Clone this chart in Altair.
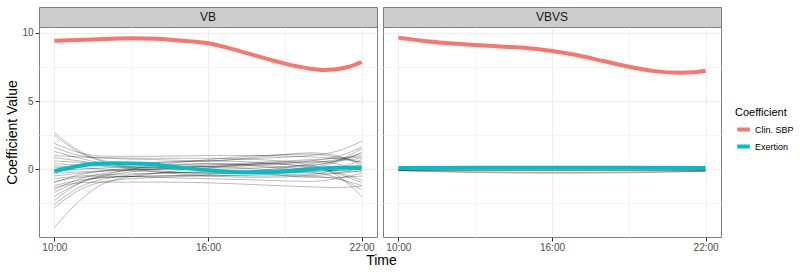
import altair as alt
import pandas as pd

# ---------------- data ----------------
PANELS = ["VB", "VBVS"]
COEFS = ["Clin. SBP", "Exertion"]
COLORS = ["#F8766D", "#00BFC4"]

# thin gray lines, VB panel (hours / values)
HOURS_VB = [10, 11, 12, 14, 16, 18, 20, 21, 22]
GRAY_VB = [
    [2.7, 1.3, 0.6, 0.3, 0.2, 0.4, 0.6, 0.4, -0.1],
    [2.5, 1.2, 0.5, -0.1, -0.3, -0.2, 0.2, 0.6, 1.2],
    [1.9, 1.2, 0.95, 0.95, 1.0, 1.0, 0.9, 0.8, 0.5],
    [1.6, 1.0, 0.8, 0.7, 0.6, 0.9, 1.2, 1.0, 0.3],
    [1.3, 0.8, 0.4, 0.1, 0.0, 0.1, 0.3, 0.6, 1.5],
    [1.0, 0.9, 0.85, 0.8, 0.8, 0.7, 0.3, -0.4, -2.0],
    [0.85, 0.6, 0.3, -0.2, -0.5, -0.6, -0.5, -0.3, 0.1],
    [0.6, 0.5, 0.45, 0.5, 0.6, 0.8, 1.0, 1.3, 2.05],
    [0.4, 0.3, 0.2, 0.1, 0.2, 0.4, 0.2, -0.2, -0.8],
    [0.25, 0.1, 0.0, -0.2, -0.3, -0.1, 0.4, 0.7, 0.9],
    [0.1, 0.2, 0.3, 0.5, 0.6, 0.5, 0.1, -0.3, -1.0],
    [-0.1, 0.0, 0.1, 0.3, 0.4, 0.2, -0.2, -0.6, -1.5],
    [-0.3, -0.2, -0.1, 0.0, 0.1, 0.3, 0.6, 0.9, 1.6],
    [-0.5, -0.3, -0.15, 0.1, 0.3, 0.5, 0.7, 0.8, 1.0],
    [-0.7, -0.5, -0.4, -0.3, -0.2, -0.3, -0.5, -0.7, -1.2],
    [-0.9, -0.6, -0.5, -0.6, -0.7, -0.8, -0.9, -0.7, -0.3],
    [-1.0, -0.4, -0.1, 0.2, 0.4, 0.3, 0.0, -0.1, -0.2],
    [-1.2, -0.8, -0.6, -0.5, -0.4, -0.2, 0.0, 0.1, 0.3],
    [-1.35, -1.0, -0.95, -0.95, -1.0, -1.15, -1.3, -1.35, -1.25],
    [-1.5, -0.7, -0.3, 0.0, -0.1, -0.3, -0.6, -0.6, -0.5],
    [-1.7, -0.9, -0.6, -0.5, -0.45, -0.5, -0.4, 0.0, 0.7],
    [-2.0, -1.0, -0.5, 0.0, 0.2, 0.0, -0.3, -0.3, -0.1],
    [-2.3, -1.0, -0.4, 0.3, 0.7, 1.0, 1.1, 0.9, 0.5],
    [-2.6, -1.3, -0.7, -0.3, -0.2, -0.1, 0.1, 0.5, 1.2],
    [-2.85, -1.5, -0.9, -0.6, -0.5, -0.4, -0.2, -0.1, 0.0],
    [-4.3, -2.3, -1.0, -0.3, 0.1, 0.4, 0.5, 0.6, 0.8],
]

# thin gray lines, VBVS panel
HOURS_VBVS = [10, 13, 16, 19, 22]
GRAY_VBVS = [
    [-0.05, -0.05, -0.05, -0.05, -0.1],
    [-0.1, -0.12, -0.12, -0.12, -0.12],
    [-0.1, -0.2, -0.25, -0.22, -0.15],
    [-0.1, -0.25, -0.3, -0.27, -0.15],
    [0.05, 0.15, 0.18, 0.15, 0.05],
    [0.0, 0.05, 0.08, 0.06, 0.0],
    [-0.08, -0.1, -0.1, -0.1, -0.08],
]

# thick coloured lines
SBP_HOURS_VB = [10, 11.5, 13, 14, 15, 16, 17, 18, 19, 20, 20.5, 21, 21.5, 22]
SBP_VB = [9.43, 9.53, 9.61, 9.58, 9.43, 9.24, 8.8, 8.26, 7.75, 7.38, 7.28, 7.33, 7.52, 7.87]
SBP_HOURS_VBVS = [10, 11, 12, 13, 14, 15, 16, 17, 18, 19, 20, 21, 21.5, 22]
SBP_VBVS = [9.66, 9.41, 9.24, 9.12, 9.0, 8.9, 8.68, 8.36, 7.94, 7.52, 7.2, 7.08, 7.11, 7.23]
EX_HOURS_VB = [10, 10.9, 11.6, 12.5, 13.5, 14.8, 16, 16.9, 17.9, 19, 20, 21, 22]
EX_VB = [-0.15, 0.22, 0.39, 0.44, 0.39, 0.15, -0.07, -0.2, -0.22, -0.15, -0.02, 0.1, 0.1]
EX_HOURS_VBVS = [10, 13, 16, 19, 22]
EX_VBVS = [0.08, 0.1, 0.1, 0.1, 0.08]

X_TICKS = [10, 13, 16, 19, 22]
Y_TICKS = [-2.5, 0, 2.5, 5, 7.5, 10]

# ---------------- tables ----------------
gray_rows = []
for pname, hours, lines in [("VB", HOURS_VB, GRAY_VB), ("VBVS", HOURS_VBVS, GRAY_VBVS)]:
    for i, vals in enumerate(lines):
        for h, v in zip(hours, vals):
            gray_rows.append({"panel": pname, "id": i, "hour": h, "value": v})
gray_df = pd.DataFrame(gray_rows)

col_rows = []
for pname, coef, hours, vals in [
    ("VB", "Clin. SBP", SBP_HOURS_VB, SBP_VB),
    ("VB", "Exertion", EX_HOURS_VB, EX_VB),
    ("VBVS", "Clin. SBP", SBP_HOURS_VBVS, SBP_VBVS),
    ("VBVS", "Exertion", EX_HOURS_VBVS, EX_VBVS),
]:
    for h, v in zip(hours, vals):
        col_rows.append({"panel": pname, "coef": coef, "hour": h, "value": v})
col_df = pd.DataFrame(col_rows)

FONT = "Liberation Sans"
W, H, STRIP_H = 338, 210, 20

minor_x = "datum.value == 13 || datum.value == 19"
minor_y = "datum.value == -2.5 || datum.value == 2.5 || datum.value == 7.5"


def grid_props(test):
    return dict(
        gridWidth={"condition": {"test": test, "value": 1}, "value": 0.6},
        gridColor={"condition": {"test": test, "value": "#F5F5F5"}, "value": "#E3E3E3"},
    )


def panel(name, left):
    xaxis = alt.Axis(
        values=X_TICKS,
        labelExpr="datum.value % 6 == 4 ? datum.value + ':00' : ''",
        tickOpacity={"condition": {"test": minor_x, "value": 0}, "value": 1},
        title="Time" if left else None,
        titleX=342, titleY=27, titleBaseline="alphabetic", titleAlign="center",
        labelPadding=1,
        **grid_props(minor_x),
    )
    if left:
        yaxis = alt.Axis(
            values=Y_TICKS,
            labelExpr="datum.value % 5 == 0 ? format(datum.value, 'd') : ''",
            tickOpacity={"condition": {"test": minor_y, "value": 0}, "value": 1},
            title="Coefficient Value", titlePadding=2, labelPadding=2,
            **grid_props(minor_y),
        )
    else:
        yaxis = alt.Axis(
            values=Y_TICKS, labels=False, ticks=False, title=None, minExtent=0,
            **grid_props(minor_y),
        )
    x = alt.X("hour:Q", scale=alt.Scale(domain=[9.4, 22.6], nice=False, zero=False), axis=xaxis)
    y = alt.Y("value:Q", scale=alt.Scale(domain=[-4.98, 10.44], nice=False, zero=False), axis=yaxis)

    gray = alt.Chart(gray_df).transform_filter(alt.datum.panel == name).mark_line(
        color="#000000", opacity=0.38, strokeWidth=0.7, interpolate="monotone"
    ).encode(x=x, y=y, detail="id:N")

    colored = alt.Chart(col_df).transform_filter(alt.datum.panel == name).mark_line(
        strokeWidth=4, interpolate="monotone", strokeCap="butt"
    ).encode(
        x=x, y=y,
        color=alt.Color(
            "coef:N",
            scale=alt.Scale(domain=COEFS, range=COLORS),
            legend=alt.Legend(
                title="Coefficient", orient="none", legendX=696, legendY=100,
                symbolType="stroke", symbolStrokeWidth=4, symbolSize=160,
                labelFontSize=9, titleFontSize=11, titleFontWeight="normal",
                titleColor="#000000", labelColor="#000000", titleFont=FONT, labelFont=FONT,
                rowPadding=0, titlePadding=3, labelOffset=3,
            ),
        ),
    )
    return (gray + colored).properties(width=W, height=H)


def strip(name):
    d = pd.DataFrame({"panel": [name]})
    return alt.Chart(d).mark_text(font=FONT, fontSize=12, color="#1A1A1A").encode(
        text="panel:N"
    ).properties(
        width=W, height=STRIP_H,
        view=alt.ViewBackground(fill="#CCCCCC", stroke="#7F7F7F", strokeWidth=1),
    )


chart = alt.concat(
    strip(PANELS[0]), strip(PANELS[1]),
    panel(PANELS[0], True), panel(PANELS[1], False),
    columns=2, spacing=alt.RowColnumber(row=0, column=6), bounds="flush",
).properties(
    padding={"left": 5, "top": 6, "right": 0, "bottom": 0},
    background="white",
).configure_view(
    stroke="#7F7F7F", strokeWidth=1
).configure_axis(
    labelFont=FONT, labelFontSize=10, labelColor="#4D4D4D",
    titleFont=FONT, titleFontSize=14, titleColor="#000000", titleFontWeight="normal",
    tickColor="#333333", tickSize=4, tickWidth=1,
    domain=False,
)

chart.save("out.html", embed_options={"renderer": "svg", "actions": False})
